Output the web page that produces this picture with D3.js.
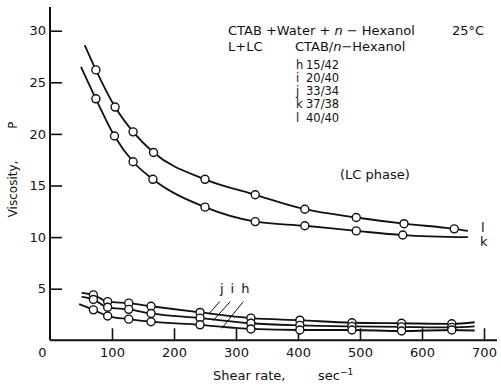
<!DOCTYPE html>
<html><head><meta charset="utf-8">
<script src="https://cdn.jsdelivr.net/npm/d3@7"></script>
<style>
body{margin:0;background:#fff;}
svg text{font-family:"DejaVu Sans",sans-serif;fill:#111;}
</style></head>
<body>
<svg id="c" width="501" height="386"></svg>
<script>
// ---- data ----
const xTicks = [0,100,200,300,400,500,600,700];
const yTicks = [5,10,15,20,25,30];

// markers (shear rate sec^-1, viscosity P)
const seriesNames = ["l","k","j","i","h"];
const markersL = [[74,26.2],[105,22.6],[134,20.2],[167,18.2],[250,15.6],[331,14.1],[411,12.7],[494,11.9],[571,11.3],[652,10.8]];
const markersK = [[74,23.4],[104,19.8],[134,17.3],[166,15.6],[250,12.9],[331,11.5],[411,11.1],[494,10.6],[569,10.2]];
const markersJ = [[70,4.4],[93,3.75],[127,3.6],[163,3.3],[242,2.7],[324,2.15],[403,1.95],[487,1.7],[567,1.65],[648,1.6]];
const markersI = [[70,3.95],[93,3.2],[127,3.0],[163,2.6],[242,2.15],[324,1.65],[403,1.45],[487,1.35],[567,1.3],[648,1.25]];
const markersH = [[70,2.95],[93,2.35],[127,2.05],[163,1.8],[242,1.5],[324,1.1],[403,1.0],[487,1.0],[567,0.9],[648,1.0]];
// ends of the fitted curves
const curveStart = {l:[56,28.6], k:[50,26.5], j:[51,4.6], i:[51,4.2], h:[47,3.5]};
const curveEnd   = {l:[674,10.6], k:[674,10.0], j:[685,1.75], i:[685,1.35], h:[685,0.95]};

const compLetters = ["h","i","j","k","l"];
const compRatios = ["15/42","20/40","33/34","37/38","40/40"];

const svg = d3.select("#c");
const x = d3.scaleLinear().domain([0,700]).range([50,484]);
const y = d3.scaleLinear().domain([0,30]).range([340.3,30.7]);

// axes lines
svg.append("line").attr("x1",x(0)).attr("x2",497).attr("y1",y(0)).attr("y2",y(0)).attr("stroke","#111").attr("stroke-width",2);
svg.append("line").attr("x1",x(0)).attr("x2",x(0)).attr("y1",7).attr("y2",y(0)).attr("stroke","#111").attr("stroke-width",2);

const gx = svg.append("g").attr("transform",`translate(0,${y(0)})`)
  .call(d3.axisBottom(x).tickValues(xTicks).tickSize(-12).tickPadding(7).tickFormat(d3.format("d")));
const gy = svg.append("g").attr("transform",`translate(${x(0)},0)`)
  .call(d3.axisLeft(y).tickValues(yTicks).tickSize(-12).tickPadding(4).tickFormat(d3.format("d")));
[gx,gy].forEach(g=>{
  g.select(".domain").remove();
  g.selectAll(".tick line").attr("stroke","#111").attr("stroke-width",1.6);
  g.selectAll(".tick text").attr("font-size",13).attr("font-family","DejaVu Sans").attr("fill","#111");
});
gx.selectAll(".tick").filter(d=>d===0).select("line").remove();
gx.selectAll(".tick").filter(d=>d===0).select("text").attr("dx",-8);

// axis titles
svg.append("text").attr("transform","translate(17,189) rotate(-90)").attr("text-anchor","middle")
  .attr("font-size",12).text("Viscosity,");
svg.append("text").attr("transform","translate(17,125) rotate(-90)").attr("text-anchor","middle")
  .attr("font-size",12).text("P");
const xt = svg.append("text").attr("x",213).attr("y",380).attr("font-size",13);
xt.append("tspan").text("Shear rate,");
xt.append("tspan").attr("x",318).text("sec");
xt.append("tspan").attr("dy",-5).attr("font-size",9).text("−1");

// curves
const line = d3.line().x(d=>x(d[0])).y(d=>y(d[1])).curve(d3.curveMonotoneX);
const allMarkers = {l:markersL,k:markersK,j:markersJ,i:markersI,h:markersH};
seriesNames.forEach(n=>{
  const pts = [curveStart[n], ...allMarkers[n], curveEnd[n]];
  svg.append("path").attr("d",line(pts)).attr("fill","none").attr("stroke","#111").attr("stroke-width",1.8);
});
seriesNames.forEach(n=>{
  svg.append("g").selectAll("circle").data(allMarkers[n]).join("circle")
    .attr("cx",d=>x(d[0])).attr("cy",d=>y(d[1])).attr("r",4)
    .attr("fill","#fff").attr("stroke","#111").attr("stroke-width",1.4);
});

// curve labels
svg.append("text").attr("x",481).attr("y",232).attr("font-size",13).text("l");
svg.append("text").attr("x",480).attr("y",246).attr("font-size",13).text("k");
const lowLabels = [["j",277,256,2.55],["i",294,263,1.9],["h",315,277,1.16]];
lowLabels.forEach(([t,lx,tx,ty])=>{
  svg.append("text").attr("x",x(lx)).attr("y",y(4.55)).attr("text-anchor","middle").attr("font-size",13).text(t);
  svg.append("line").attr("x1",x(lx)-2).attr("y1",y(3.75)).attr("x2",x(tx)).attr("y2",y(ty))
    .attr("stroke","#111").attr("stroke-width",1);
});

// legend text
const t1 = svg.append("text").attr("x",228).attr("y",35).attr("font-size",13);
t1.append("tspan").text("CTAB +Water + ");
t1.append("tspan").attr("font-style","italic").text("n");
t1.append("tspan").text(" − Hexanol");
svg.append("text").attr("x",452).attr("y",35).attr("font-size",13).text("25°C");
svg.append("text").attr("x",228).attr("y",51).attr("font-size",13).text("L+LC");
const t2 = svg.append("text").attr("x",295).attr("y",51).attr("font-size",13);
t2.append("tspan").text("CTAB/");
t2.append("tspan").attr("font-style","italic").text("n");
t2.append("tspan").text("−Hexanol");
compLetters.forEach((s,idx)=>{
  const row = svg.append("text").attr("x",296).attr("y",68.5+idx*13.3).attr("font-size",11.5);
  row.append("tspan").text(s);
  row.append("tspan").attr("x",306).text(compRatios[idx]);
});
svg.append("text").attr("x",340).attr("y",179).attr("font-size",13).text("(LC phase)");
</script>
</body></html>
